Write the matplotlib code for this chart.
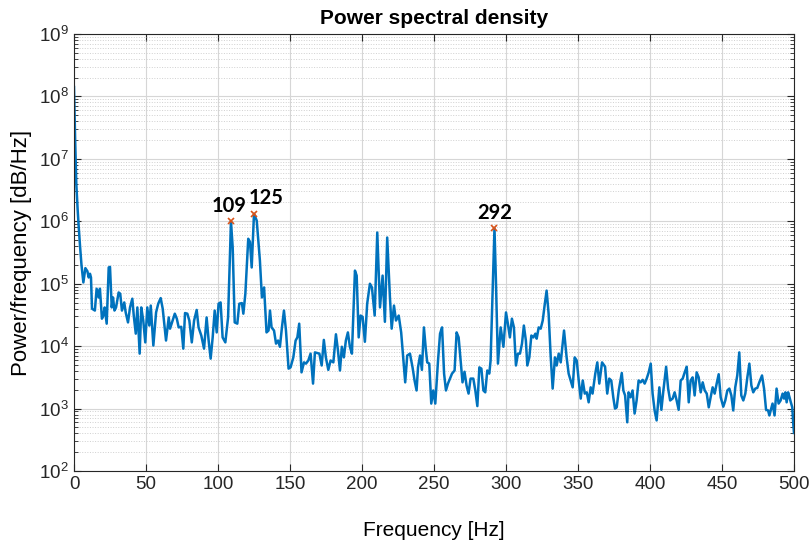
import numpy as np
import matplotlib
matplotlib.use("Agg")
import matplotlib.pyplot as plt

# frequency [Hz] and log10 of the PSD
freq = [0.0, 0.8, 1.6, 2.5, 3.3, 4.2, 5.2, 6.5, 7.9, 9.3, 10.2, 11.1, 11.8, 12.5,
        14.5, 15.7, 17.1, 18.0, 19.4, 20.4, 21.3, 22.7, 24.1, 25.0, 26.2, 27.1,
        28.1, 29.2, 31.0, 32.1, 33.3, 34.9, 35.9, 37.5, 38.9, 40.5, 41.5, 42.9,
        44.0, 45.6, 46.7, 48.1, 49.5, 50.9, 52.3, 53.3, 55.1, 57.0, 58.5, 60.2,
        61.6, 63.9, 65.8, 66.7, 68.1, 70.0, 71.4, 72.7, 74.5, 75.9, 77.1, 78.7,
        80.1, 81.8, 83.4, 85.2, 86.5, 88.4, 90.3, 92.1, 93.5, 94.9, 96.3, 97.7,
        99.1, 100.4, 101.8, 103.2, 105.1, 107.0, 109.0, 110.2, 111.6, 113.4,
        114.8, 116.6, 117.6, 119.0, 121.0, 122.2, 123.4, 125.0, 126.9, 129.1,
        130.5, 132.0, 133.7, 135.1, 136.1, 137.2, 138.9, 140.3, 141.7, 143.0,
        144.4, 145.8, 147.2, 149.0, 150.4, 152.3, 153.9, 155.1, 156.4, 158.0,
        159.7, 161.1, 162.7, 164.3, 166.0, 167.3, 169.0, 170.4, 172.0, 173.5,
        174.9, 176.6, 178.2, 180.1, 181.9, 183.3, 184.7, 186.0, 187.4, 188.8,
        190.2, 191.6, 193.0, 195.1, 196.3, 197.7, 199.0, 200.4, 202.0, 203.6,
        205.5, 206.9, 208.8, 210.6, 212.5, 214.3, 215.9, 217.5, 219.4, 220.6,
        222.2, 223.6, 225.5, 227.2, 230.0, 231.4, 233.3, 235.1, 236.5, 237.9,
        238.9, 240.3, 241.6, 243.0, 244.4, 245.3, 246.7, 248.1, 249.5, 250.9,
        252.8, 254.2, 255.6, 257.0, 258.3, 259.7, 261.1, 262.5, 264.3, 265.7,
        267.1, 268.5, 269.8, 271.2, 272.6, 274.0, 275.4, 277.3, 278.7, 280.1,
        281.5, 282.9, 284.3, 285.6, 287.0, 288.4, 289.3, 292.0, 293.0, 294.4,
        296.3, 298.2, 300.0, 301.3, 302.7, 304.1, 305.5, 306.9, 308.3, 309.7,
        311.1, 312.4, 313.8, 314.8, 316.2, 317.6, 319.0, 320.4, 321.3, 322.7,
        324.1, 325.5, 326.8, 328.2, 329.6, 331.0, 332.4, 334.0, 335.2, 336.6,
        338.0, 340.3, 342.1, 343.5, 344.9, 346.3, 347.7, 349.1, 350.5, 351.9,
        353.3, 354.7, 356.1, 357.4, 358.8, 360.1, 362.0, 363.4, 364.8, 366.7,
        368.8, 370.3, 371.7, 373.1, 374.5, 375.7, 376.9, 378.3, 380.4, 381.5,
        382.7, 384.2, 385.1, 386.5, 387.9, 389.3, 390.7, 392.1, 393.5, 394.9,
        396.3, 397.7, 399.1, 400.5, 401.8, 403.2, 404.6, 406.5, 407.9, 409.3,
        411.2, 412.6, 414.0, 415.7, 417.1, 418.5, 419.9, 421.3, 422.7, 424.1,
        425.5, 426.9, 428.2, 429.6, 431.0, 432.4, 433.8, 435.2, 436.6, 438.0,
        439.4, 440.8, 442.1, 443.5, 444.9, 446.3, 447.7, 449.1, 450.9, 452.3,
        453.7, 455.1, 456.5, 457.8, 459.2, 460.6, 462.0, 463.4, 464.8, 466.2,
        467.6, 469.0, 470.4, 471.7, 473.1, 474.5, 475.9, 477.8, 479.2, 480.6,
        482.0, 482.9, 483.8, 485.1, 486.5, 487.9, 489.3, 490.7, 492.1, 493.1,
        494.0, 494.9, 495.9, 496.9, 497.8, 498.8, 499.5, 500.0]

psd_log10 = [8.15, 7.3, 6.6, 6.2, 5.9, 5.6, 5.3, 5.02, 5.25, 5.2, 5.1, 5.16, 5.1, 4.6,
             4.57, 4.92, 4.78, 4.92, 4.44, 4.49, 4.62, 4.36, 5.26, 5.27, 4.62, 4.78,
             4.57, 4.62, 4.86, 4.84, 4.57, 4.70, 4.54, 4.38, 4.62, 4.76, 4.49, 4.20,
             4.62, 3.88, 4.62, 4.41, 4.06, 4.62, 4.33, 4.65, 4.01, 4.54, 4.68, 4.77,
             4.60, 4.09, 4.46, 4.28, 4.38, 4.52, 4.44, 4.30, 4.31, 3.96, 4.53, 4.52,
             4.41, 4.06, 4.41, 4.58, 4.30, 4.17, 3.96, 4.46, 4.09, 3.80, 4.14, 4.57,
             4.22, 4.68, 4.70, 4.14, 4.06, 4.46, 6.00, 5.58, 4.38, 4.36,
             4.68, 4.69, 4.52, 4.84, 5.72, 5.67, 5.26, 6.12, 6.01, 5.37,
             4.78, 4.94, 4.22, 4.25, 4.57, 4.30, 4.25, 4.04, 4.09, 3.99,
             4.30, 4.57, 4.25, 3.64, 3.66, 3.82, 4.09, 4.14, 4.36, 3.58,
             3.74, 3.72, 3.77, 3.88, 3.40, 3.90, 3.89, 3.88, 3.69, 4.10,
             3.82, 3.62, 3.77, 3.74, 4.19, 3.93, 3.61, 3.99, 3.82, 4.09,
             4.22, 3.99, 3.88, 5.21, 5.13, 4.14, 4.49, 4.47, 4.07, 4.68,
             5.00, 4.94, 4.49, 5.82, 4.62, 5.13, 4.39, 5.74, 4.78, 4.28,
             4.65, 4.41, 4.49, 4.22, 3.42, 3.85, 3.88, 3.66, 3.45, 3.29,
             3.66, 3.85, 3.62, 4.30, 3.93, 3.74, 3.72, 3.08, 3.29, 3.08,
             3.77, 4.20, 4.30, 3.56, 3.29, 3.40, 3.48, 3.56, 3.61, 4.22,
             4.14, 3.77, 3.42, 3.59, 3.37, 3.24, 3.48, 3.48, 3.29, 3.04,
             3.66, 3.64, 3.29, 3.26, 3.61, 3.56, 3.77, 5.89, 5.05, 3.72,
             4.30, 3.99, 4.54, 4.36, 4.14, 4.44, 4.30, 3.69, 3.88, 3.88,
             4.04, 4.33, 4.09, 3.69, 3.82, 4.17, 4.14, 4.20, 4.12, 4.30,
             4.28, 4.41, 4.65, 4.89, 4.52, 3.85, 3.32, 3.82, 3.69, 3.88,
             3.74, 4.25, 3.82, 3.56, 3.45, 3.34, 3.82, 3.77, 3.45, 3.16,
             3.45, 3.24, 3.26, 3.10, 3.34, 3.24, 3.56, 3.74, 3.40, 3.74,
             3.67, 3.24, 3.48, 3.45, 3.18, 3.00, 3.02, 3.29, 3.57, 3.29,
             3.21, 2.78, 3.26, 3.18, 3.29, 2.92, 3.13, 3.45, 3.42, 3.46,
             3.40, 3.48, 3.58, 3.72, 3.24, 2.97, 2.81, 3.34, 2.98, 3.29,
             3.67, 3.32, 3.13, 3.16, 3.26, 3.13, 2.98, 3.45, 3.48, 3.58,
             3.67, 3.10, 3.45, 3.50, 3.21, 3.58, 3.50, 3.26, 3.42, 3.29,
             3.24, 3.02, 3.18, 3.34, 3.24, 3.40, 3.55, 3.18, 3.03, 3.13,
             3.29, 3.32, 3.21, 2.97, 3.34, 3.53, 3.90, 3.21, 3.13, 3.24,
             3.50, 3.72, 3.37, 3.26, 3.32, 3.33, 3.42, 3.53, 3.32, 2.98,
             2.97, 2.89, 2.97, 3.08, 2.89, 3.32, 3.08, 3.13, 3.24, 3.16,
             3.26, 3.10, 3.26, 3.18, 3.10, 3.02, 2.75, 2.61]

peak_freq = [109, 125, 292]
peak_log10 = [6.00, 6.12, 5.89]
peak_labels = ["109", "125", "292"]
label_offsets = [(-1, 4), (9, 4), (0, 4)]

power = 10 ** np.array(psd_log10)
peak_power = 10 ** np.array(peak_log10)

plt.rcParams["font.family"] = ["Liberation Sans", "DejaVu Sans"]
plt.rcParams["mathtext.fontset"] = "custom"
plt.rcParams["mathtext.rm"] = "Liberation Sans"

fig = plt.figure(figsize=(8.09, 5.43), dpi=100)
ax = fig.add_axes([74 / 809, 1 - 471 / 543, 720 / 809, 437 / 543])

ax.plot(freq, power, color="#0072BD", linewidth=1.8)
ax.plot(peak_freq, peak_power, "x", color="#D95319", markersize=4, markeredgewidth=1.2)
for f, p, lab, off in zip(peak_freq, peak_power, peak_labels, label_offsets):
    ax.annotate(lab, (f, p), xytext=off, textcoords="offset points",
                ha="center", va="bottom", fontsize=14.5, fontweight="bold",
                family=["Lato", "DejaVu Sans"])

ax.set_yscale("log")
ax.set_xlim(0, 500)
ax.set_ylim(1e2, 1e9)
ax.set_xticks(np.arange(0, 501, 50))
ax.set_yticks([10.0 ** k for k in range(2, 10)])

ax.grid(True, which="major", color="#d6d6d6", linewidth=0.8)
ax.grid(True, which="minor", axis="y", color="#d0d0d0", linestyle=":", linewidth=0.7)
ax.set_axisbelow(True)

ax.tick_params(which="both", direction="in", top=True, right=True, colors="#262626",
               labelsize=13.5)
ax.tick_params(which="major", length=5, width=0.8)
ax.tick_params(which="minor", length=3, width=0.6)
for s in ax.spines.values():
    s.set_color("#262626")
    s.set_linewidth(0.8)

ax.set_title("Power spectral density", fontsize=15, fontweight="bold", pad=7)
ax.set_xlabel("Frequency [Hz]", fontsize=15, labelpad=20)
ax.set_ylabel("Power/frequency [dB/Hz]", fontsize=16, labelpad=5)

fig.savefig("out.png", dpi=100)
